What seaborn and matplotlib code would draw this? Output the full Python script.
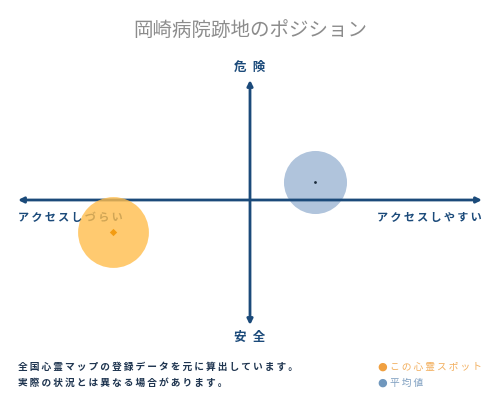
import matplotlib
matplotlib.use("Agg")
import matplotlib.pyplot as plt
import seaborn as sns

# positions on the access (x) / danger (y) map, centre = 0
labels = ['この心霊スポット', '平均値']
access = [-0.589, 0.281]
danger = [-0.27, 0.146]

title = '岡崎病院跡地のポジション'
top_label = '危険'
bottom_label = '安全'
left_label = 'アクセスしづらい'
right_label = 'アクセスしやすい'
notes = ['全国心霊マップの登録データを元に算出しています。',
         '実際の状況とは異なる場合があります。']

navy = '#1b4a7a'
spot_col = '#ffbd4c'
avg_col = '#b0c4dc'

sns.set_theme(style="white")
plt.rcParams['font.family'] = ['Noto Sans CJK JP', 'DejaVu Sans']


def spaced(s, sep='\u2009'):
    # fake letter spacing with thin spaces (DejaVu has them, the CJK font not)
    return sep.join(s)


fig = plt.figure(figsize=(5, 4), dpi=100)
# axes spans the arrow tips: x 18..482 px, y 80..325 px
ax = fig.add_axes([18 / 500, 75 / 400, 464 / 500, 245 / 400])
ax.set_xlim(-1, 1)
ax.set_ylim(-125 / 120, 1)
ax.axis('off')

# average circle sits under the axis lines
sns.scatterplot(x=access[1:], y=danger[1:], s=2060, color=avg_col, linewidth=0, ax=ax, zorder=1)

ax.annotate('', xy=(1, 0), xytext=(-1, 0),
            arrowprops=dict(arrowstyle='<|-|>', color=navy, lw=2, mutation_scale=8,
                            shrinkA=0, shrinkB=0), zorder=2)
ax.annotate('', xy=(0, 1), xytext=(0, -125 / 120),
            arrowprops=dict(arrowstyle='<|-|>', color=navy, lw=2, mutation_scale=8,
                            shrinkA=0, shrinkB=0), zorder=2)

ax.text(18 / 500, 1 - 217 / 400, spaced(left_label), transform=fig.transFigure,
        ha='left', va='center', fontsize=8, fontweight='bold', color=navy, zorder=2)
ax.text(482 / 500, 1 - 217 / 400, spaced(right_label), transform=fig.transFigure,
        ha='right', va='center', fontsize=8, fontweight='bold', color=navy, zorder=2)

# this spot goes over the axis, semi transparent
sns.scatterplot(x=access[:1], y=danger[:1], s=2600, color=spot_col, alpha=0.8, linewidth=0,
                ax=ax, zorder=3)
sns.scatterplot(x=access[:1], y=danger[:1], s=14, marker='D', color='#f39c12', linewidth=0,
                ax=ax, zorder=4)
sns.scatterplot(x=access[1:], y=danger[1:], s=4, color='#1a2a3a', linewidth=0, ax=ax, zorder=4)

fig.text(0.5, 1 - 30 / 400, title, ha='center', va='center', fontsize=14, color='#8c8c8c')
fig.text(0.5, 1 - 67 / 400, spaced(top_label, '\u2002'), ha='center', va='center', fontsize=9,
         fontweight='bold', color=navy)
fig.text(0.5, 1 - 337 / 400, spaced(bottom_label, '\u2002'), ha='center', va='center', fontsize=9,
         fontweight='bold', color=navy)

fig.text(18 / 500, 1 - 367 / 400, spaced(notes[0]), ha='left', va='center', fontsize=7,
         fontweight='bold', color='#1f3550')
fig.text(18 / 500, 1 - 383 / 400, spaced(notes[1]), ha='left', va='center', fontsize=7,
         fontweight='bold', color='#1f3550')

# legend
fig.text(377 / 500, 1 - 367 / 400, '\u25cf', ha='left', va='center', fontsize=8,
         color='#f0a040', family=['DejaVu Sans'])
fig.text(390 / 500, 1 - 367 / 400, spaced(labels[0]), ha='left', va='center', fontsize=7,
         color='#f2ae5c')
fig.text(377 / 500, 1 - 383 / 400, '\u25cf', ha='left', va='center', fontsize=8,
         color='#7097bd', family=['DejaVu Sans'])
fig.text(390 / 500, 1 - 383 / 400, spaced(labels[1]), ha='left', va='center', fontsize=7,
         color='#7f9fc0')

fig.savefig('out.png', dpi=100)
